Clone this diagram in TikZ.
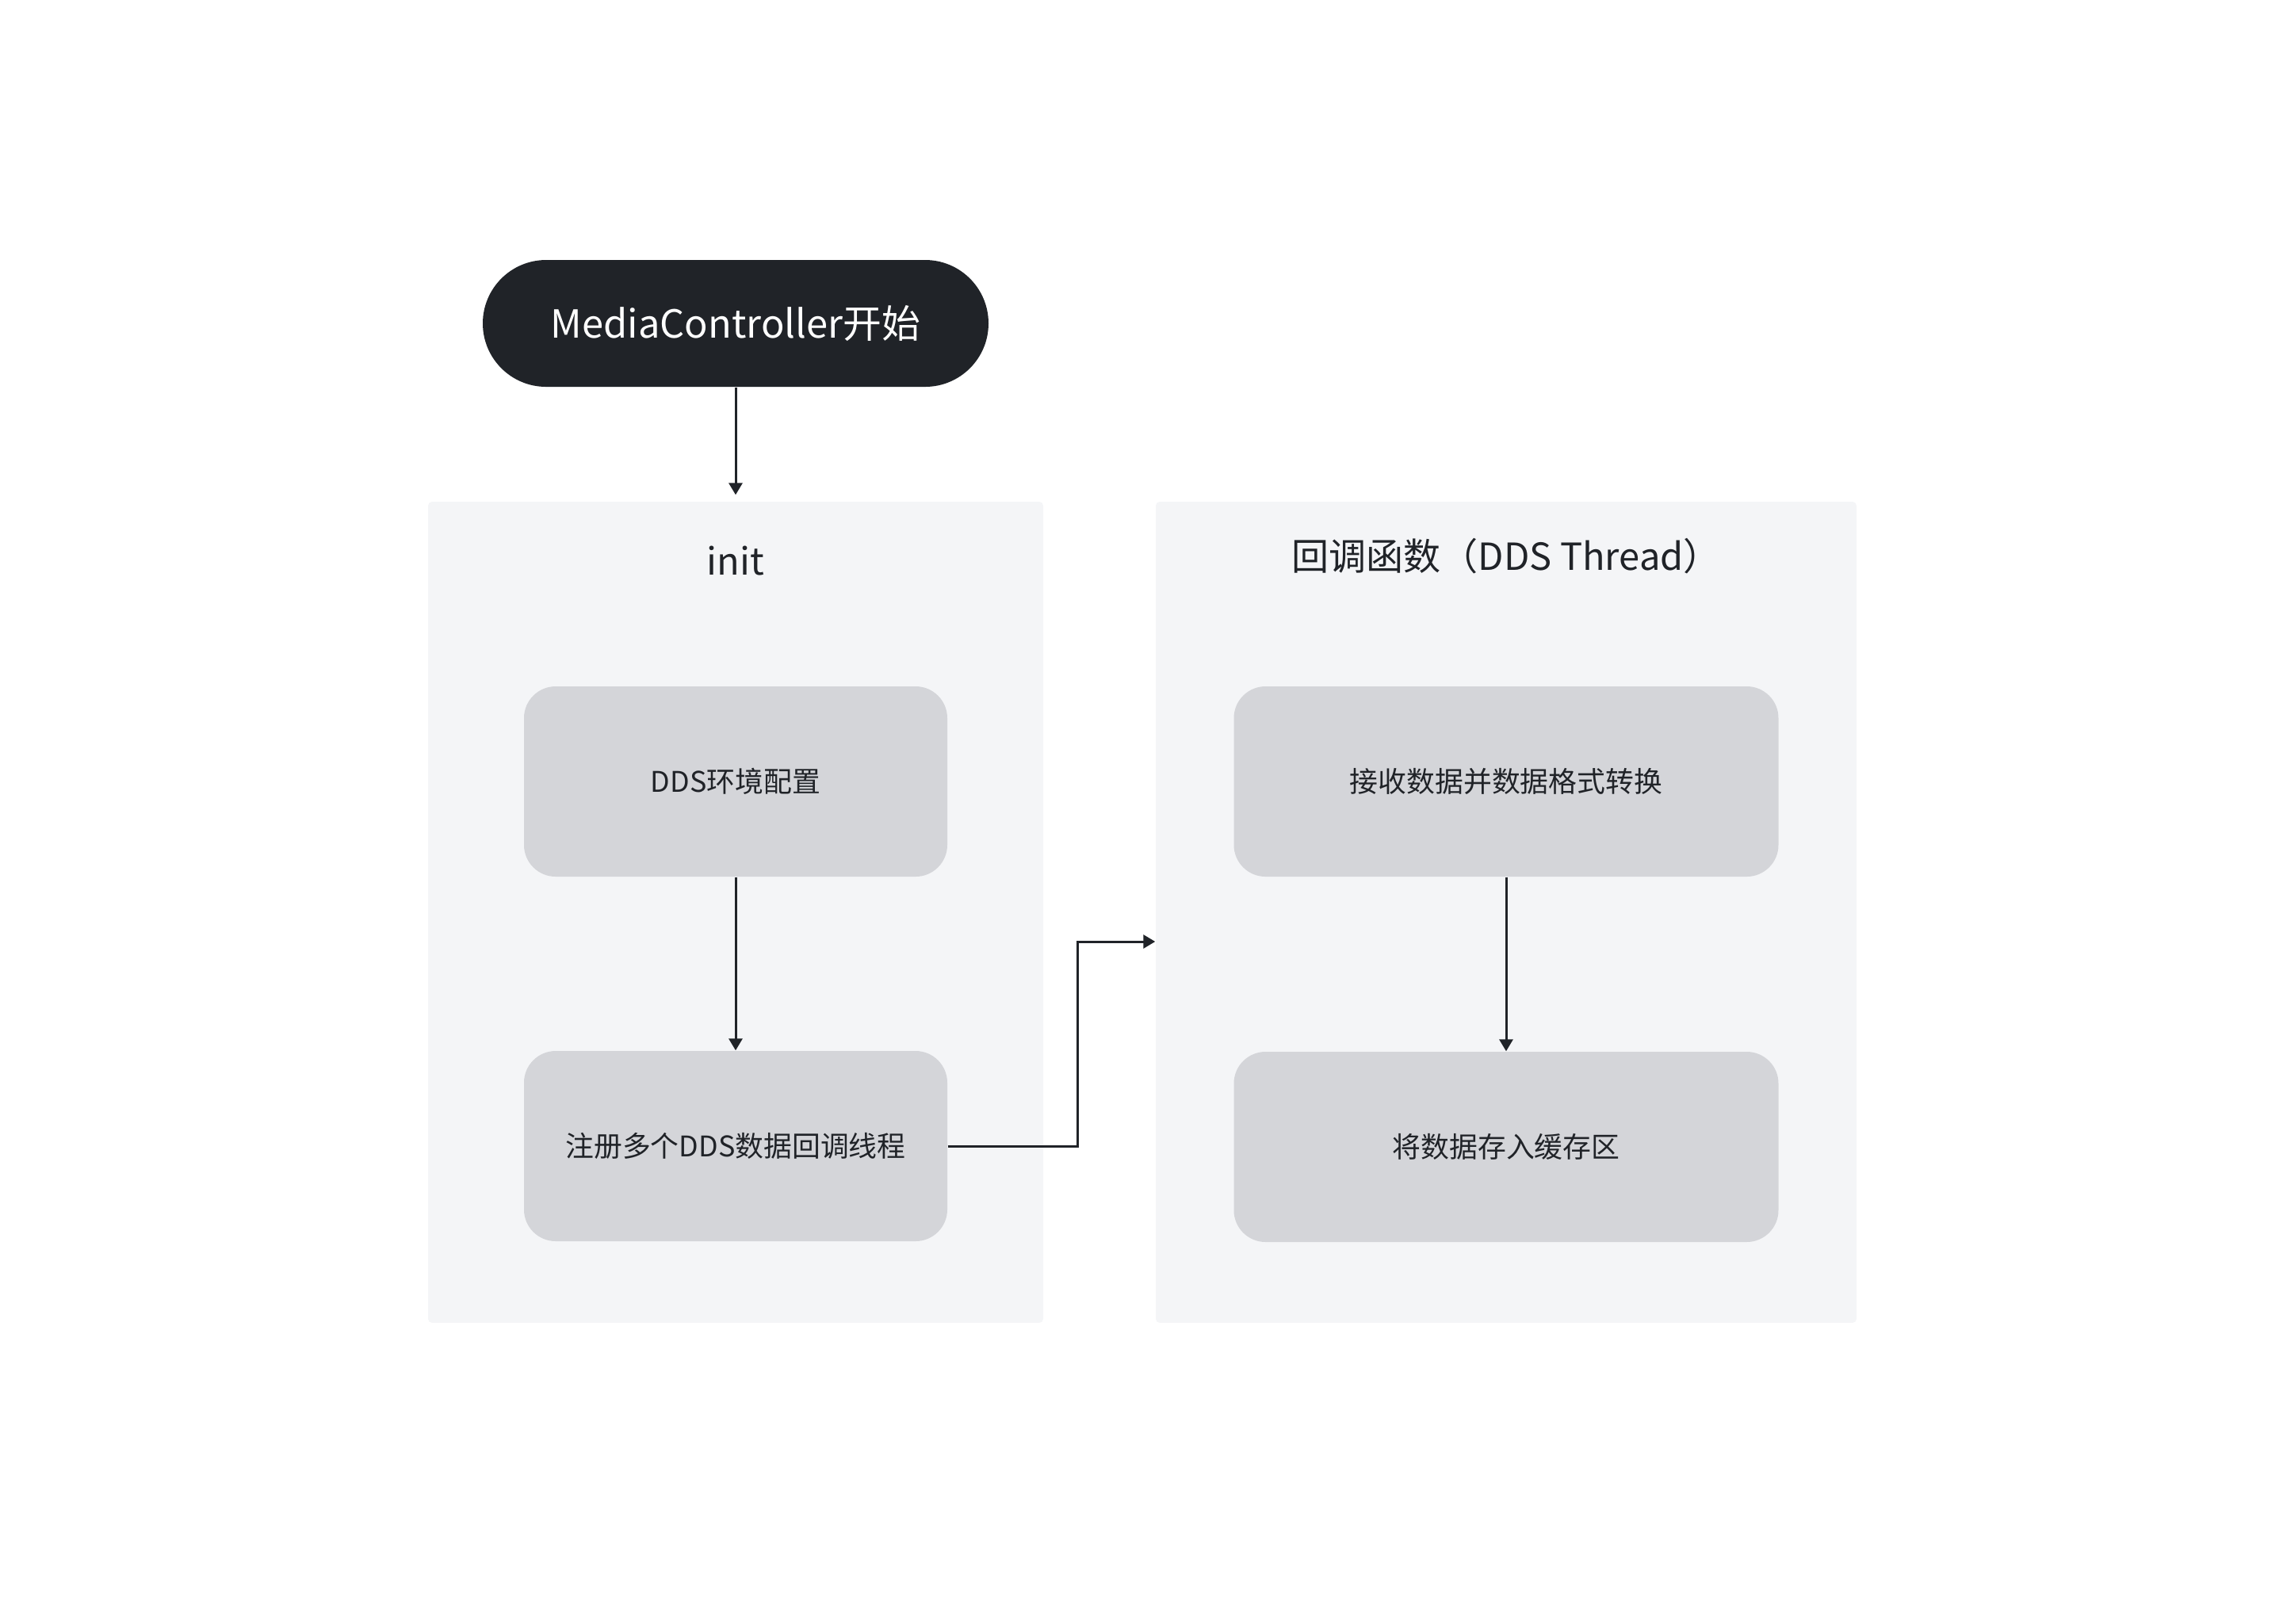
\documentclass[tikz,border=0pt]{standalone}
\usepackage{fontspec}
\setmainfont{Noto Sans CJK SC}
\usetikzlibrary{arrows.meta,positioning}
\definecolor{ink}{HTML}{202328}
\definecolor{panel}{HTML}{F4F5F7}
\definecolor{step}{HTML}{D4D5D9}
\begin{document}
\begin{tikzpicture}
[every node/.style={text=ink,inner sep=0pt},
 start/.style={fill=ink,text=white,minimum width=6.38cm,minimum height=1.6cm,
   rounded corners=0.8cm,font=\fontsize{13.9pt}{16pt}\selectfont},
 group/.style={fill=panel,rounded corners=0.05cm,minimum height=10.36cm},
 title/.style={font=\fontsize{13.4pt}{16pt}\selectfont},
 stepbox/.style={fill=step,rounded corners=0.4cm,minimum height=2.4cm,
   font=\fontsize{10.2pt}{12pt}\selectfont},
 arrow/.style={draw=ink,line width=0.85pt,-{Triangle[length=0.15cm,width=0.17cm]}}]
\useasboundingbox (0,0) rectangle (28.8,-20.48);
\node [start] (mc) at (9.28,-4.08) {MediaController开始};
\node [group,minimum width=7.76cm] (init) at (9.28,-11.51) {};
\node [group,minimum width=8.84cm] (cb) at (19.00,-11.51) {};
\node [title] (inittitle) at (9.28,-7.08) {init};
\node [title] (cbtitle) at (19.00,-7.02) {回调函数（DDS Thread）};
\node [stepbox,minimum width=5.34cm] (env) at (9.28,-9.86) {DDS环境配置};
\node [stepbox,minimum width=5.34cm] (reg) at (9.28,-14.46) {注册多个DDS数据回调线程};
\node [stepbox,minimum width=6.87cm] (recv) at (19.00,-9.86) {接收数据并数据格式转换};
\node [stepbox,minimum width=6.87cm] (buf) at (19.00,-14.47) {将数据存入缓存区};
\draw [arrow,shorten >=0.08cm] (mc) -- (init);
\draw [arrow] (env) -- (reg);
\draw [arrow] (recv) -- (buf);
\draw [arrow] (reg.east) -- ++(1.64,0) |- ([yshift=-0.37cm]cb.west);
\end{tikzpicture}
\end{document}
